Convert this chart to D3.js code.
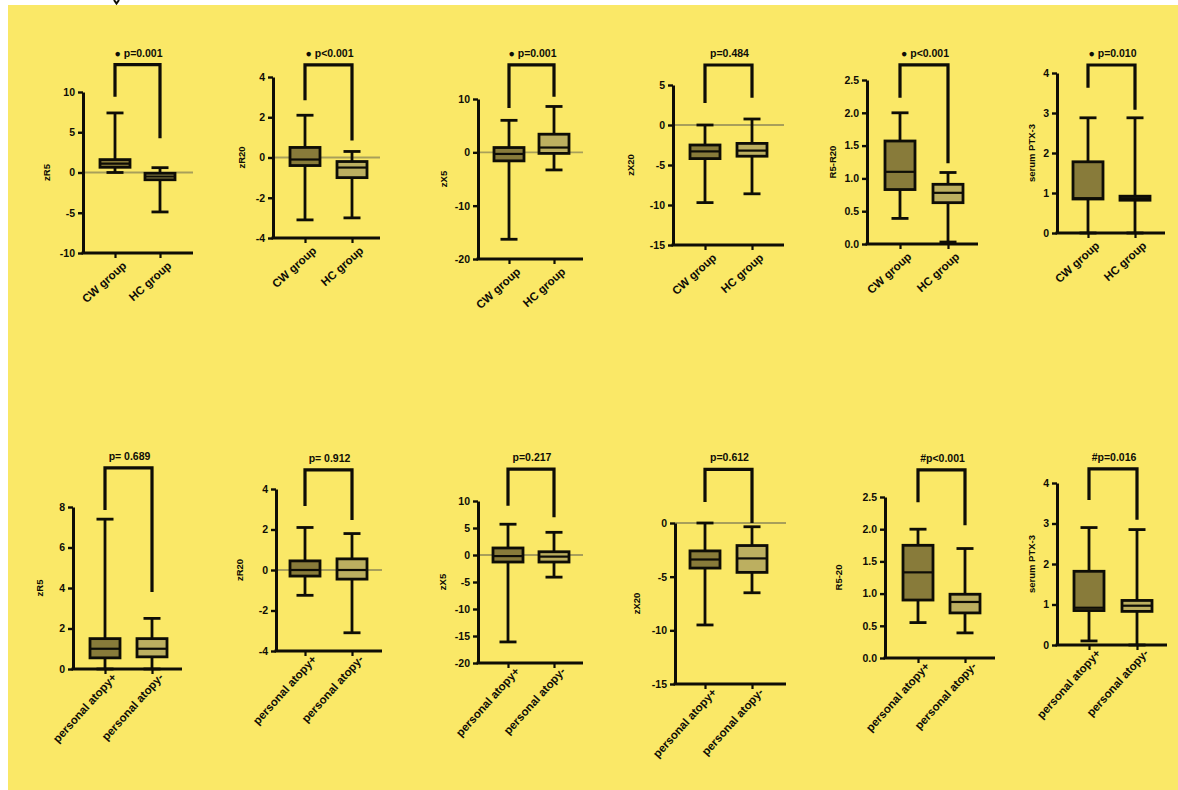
<!DOCTYPE html>
<html>
<head>
<meta charset="utf-8">
<script src="https://cdn.jsdelivr.net/npm/d3@7"></script>
<style>
  html, body { margin: 0; padding: 0; background: #ffffff; }
  svg { display: block; font-family: "Liberation Sans", Arial, sans-serif; }
</style>
</head>
<body>
<svg id="chart" width="1178" height="790"></svg>
<script>
// ---- data ----
const topGroups = ["CW group", "HC group"];
const bottomGroups = ["personal atopy+", "personal atopy-"];

const yTitles = ["zR5", "zR20", "zX5", "zX20", "R5-R20", "serum PTX-3",
                 "zR5", "zR20", "zX5", "zX20", "R5-20", "serum PTX-3"];

const pLabels = ["\u25CF p=0.001", "\u25CF p<0.001", "\u25CF p=0.001", "p=0.484", "\u25CF p<0.001", "\u25CF p=0.010",
                 "p= 0.689", "p= 0.912", "p=0.217", "p=0.612", "#p<0.001", "#p=0.016"];

const yDomains = [[-10, 10], [-4, 4], [-20, 10], [-15, 5], [0, 2.5], [0, 4],
                  [0, 8], [-4, 4], [-20, 10], [-15, 0], [0, 2.5], [0, 4]];

const yTicks = [[-10, -5, 0, 5, 10], [-4, -2, 0, 2, 4], [-20, -10, 0, 10], [-15, -10, -5, 0, 5],
                [0, 0.5, 1, 1.5, 2, 2.5], [0, 1, 2, 3, 4],
                [0, 2, 4, 6, 8], [-4, -2, 0, 2, 4], [-20, -15, -10, -5, 0, 5, 10], [-15, -10, -5, 0],
                [0, 0.5, 1, 1.5, 2, 2.5], [0, 1, 2, 3, 4]];

// box statistics: [whisker low, Q1, median, Q3, whisker high]
const statsFirst = [
  [0.0, 0.65, 1.1, 1.6, 7.4],
  [-3.1, -0.4, -0.1, 0.5, 2.1],
  [-16.3, -1.6, -0.3, 0.9, 6.0],
  [-9.7, -4.2, -3.3, -2.5, 0.0],
  [0.39, 0.83, 1.1, 1.57, 2.0],
  [0.0, 0.85, 0.87, 1.78, 2.88],
  [0.0, 0.55, 1.0, 1.5, 7.4],
  [-1.25, -0.3, 0.0, 0.45, 2.1],
  [-16.1, -1.3, -0.2, 1.3, 5.7],
  [-9.5, -4.2, -3.4, -2.6, 0.0],
  [0.55, 0.9, 1.33, 1.75, 2.0],
  [0.1, 0.85, 0.92, 1.82, 2.9]
];
const statsSecond = [
  [-4.9, -0.9, -0.5, -0.1, 0.6],
  [-3.0, -1.0, -0.5, -0.2, 0.3],
  [-3.3, -0.2, 0.9, 3.4, 8.6],
  [-8.6, -3.9, -3.2, -2.3, 0.75],
  [0.03, 0.63, 0.78, 0.91, 1.09],
  [0.0, 0.82, 0.87, 0.92, 2.88],
  [0.0, 0.6, 1.0, 1.5, 2.5],
  [-3.1, -0.45, 0.0, 0.55, 1.8],
  [-4.1, -1.3, -0.3, 0.6, 4.2],
  [-6.5, -4.6, -3.3, -2.1, -0.35],
  [0.39, 0.7, 0.87, 0.99, 1.7],
  [0.0, 0.83, 0.97, 1.1, 2.85]
];

// significance bracket: [bar level, left leg end, right leg end] in axis units
const brackets = [
  [13.4, 9.4, 4.25], [4.6, 2.85, 0.85], [16.4, 8.3, 10.4], [7.5, 2.75, 3.4], [2.73, 2.23, 1.23], [4.2, 3.63, 3.08],
  [9.93, 7.85, 3.8], [4.94, 3.16, 2.47], [15.9, 9.1, 7.0], [5.0, 1.96, 0.0], [2.92, 2.42, 2.06], [4.35, 3.58, 3.09]
];

// panels with a zero reference line
const zeroLine = [true, true, true, true, false, false, false, true, true, true, false, false];

// ---- layout (pixels): axis x, top of y range, bottom of y range, first/second group x, x-axis end, y-title offset ----
const layout = [
  [83, 92, 253, 115, 160, 193, 36],
  [273, 77, 238, 305, 352, 380, 31],
  [478, 99, 259, 509, 554, 583, 34],
  [673, 85, 245, 705, 752, 784, 42],
  [867, 80, 244, 900, 948, 978, 34],
  [1057, 73, 233, 1088, 1135, 1165, 25],
  [73, 507, 669, 105, 152, 182, 33],
  [276, 489, 651, 305, 352, 382, 36],
  [478, 501, 663, 508, 554, 583, 35],
  [675, 523, 684, 705, 752, 786, 38],
  [885, 497, 658, 918, 965, 995, 46],
  [1057, 483, 645, 1089, 1137, 1167, 25]
];

// ---- styles ----
const BG = "#fae867";
const FILL_A = "#887b3a";
const FILL_B = "#bcaf60";
const INK = "#0e0d06";
const ZERO = "#a89f5a";
const BOX_W = 30, CAP_W = 17;
const FONT = "'Liberation Sans', Arial, sans-serif";

const svg = d3.select("#chart");

svg.append("rect").attr("x", 8).attr("y", 5).attr("width", 1170).attr("height", 785).attr("fill", BG);

// tail of a glyph from the line above the figure
svg.append("path").attr("d", "M114,0 L116.5,3.5 L119,0").attr("fill", "none")
  .attr("stroke", INK).attr("stroke-width", 2);

const fmtDec = v => v.toFixed(1);
const fmtInt = v => String(v);

yTitles.forEach((title, i) => {
  const [ax, yTop, yBot, c1, c2, axEnd, titleOff] = layout[i];
  const groups = i < 6 ? topGroups : bottomGroups;
  const g = svg.append("g");

  const y = d3.scaleLinear().domain(yDomains[i]).range([yBot, yTop]);
  const x = d3.scalePoint().domain(groups).range([c1, c2]);

  // zero reference
  if (zeroLine[i]) {
    g.append("line").attr("x1", ax).attr("x2", axEnd).attr("y1", y(0)).attr("y2", y(0))
      .attr("stroke", ZERO).attr("stroke-width", 1.8);
  }

  // y axis
  const decimals = yTicks[i].some(t => !Number.isInteger(t));
  const yAxis = d3.axisLeft(y).tickValues(yTicks[i]).tickSize(5).tickSizeOuter(0).tickPadding(3)
    .tickFormat(decimals ? fmtDec : fmtInt);
  const ya = g.append("g").attr("transform", `translate(${ax},0)`).call(yAxis);
  ya.select(".domain").attr("stroke", INK).attr("stroke-width", 3);
  ya.selectAll(".tick line").attr("stroke", INK).attr("stroke-width", 2.4);
  ya.selectAll(".tick text").attr("fill", INK).attr("font-size", 10.5).attr("font-weight", "bold")
    .attr("font-family", FONT);

  // x axis baseline
  g.append("line").attr("x1", ax - 1.5).attr("x2", axEnd).attr("y1", yBot).attr("y2", yBot)
    .attr("stroke", INK).attr("stroke-width", 3);
  const xAxis = d3.axisBottom(x).tickSize(5).tickSizeOuter(0).tickPadding(4);
  const xa = g.append("g").attr("transform", `translate(0,${yBot})`).call(xAxis);
  xa.select(".domain").remove();
  xa.selectAll(".tick line").attr("stroke", INK).attr("stroke-width", 2.2);
  xa.selectAll(".tick text")
    .attr("fill", INK).attr("font-size", 11.5).attr("font-weight", "bold")
    .attr("font-family", FONT)
    .attr("text-anchor", "end")
    .attr("dy", "0.35em")
    .attr("transform", i < 6 ? "translate(3,4) rotate(-42)" : "translate(2,0) rotate(-48)");

  // y title
  g.append("text")
    .attr("transform", `translate(${ax - titleOff},${(yTop + yBot) / 2}) rotate(-90)`)
    .attr("text-anchor", "middle").attr("dy", "0.35em")
    .attr("font-size", 9.5).attr("font-weight", "bold").attr("fill", INK)
    .text(title);

  // boxes
  const boxData = [
    { grp: groups[0], s: statsFirst[i], fill: FILL_A },
    { grp: groups[1], s: statsSecond[i], fill: FILL_B }
  ];
  const b = g.selectAll(".box").data(boxData).join("g").attr("class", "box");
  // whisker stems
  b.append("line")
    .attr("x1", d => x(d.grp)).attr("x2", d => x(d.grp))
    .attr("y1", d => y(d.s[0])).attr("y2", d => y(d.s[4]))
    .attr("stroke", INK).attr("stroke-width", 2.8);
  // caps
  b.selectAll(".cap").data(d => [[d.grp, d.s[0]], [d.grp, d.s[4]]]).join("line").attr("class", "cap")
    .attr("x1", d => x(d[0]) - CAP_W / 2).attr("x2", d => x(d[0]) + CAP_W / 2)
    .attr("y1", d => y(d[1])).attr("y2", d => y(d[1]))
    .attr("stroke", INK).attr("stroke-width", 2.8);
  // box
  b.append("rect")
    .attr("x", d => x(d.grp) - BOX_W / 2).attr("width", BOX_W)
    .attr("y", d => y(d.s[3])).attr("height", d => Math.max(0.5, y(d.s[1]) - y(d.s[3])))
    .attr("fill", d => d.fill).attr("stroke", INK).attr("stroke-width", 2.8);
  // median
  b.append("line")
    .attr("x1", d => x(d.grp) - BOX_W / 2).attr("x2", d => x(d.grp) + BOX_W / 2)
    .attr("y1", d => y(d.s[2])).attr("y2", d => y(d.s[2]))
    .attr("stroke", INK).attr("stroke-width", 2.2);

  // significance bracket
  const [bTop, bLeft, bRight] = brackets[i];
  const path = d3.path();
  path.moveTo(x(groups[0]), y(bLeft));
  path.lineTo(x(groups[0]), y(bTop));
  path.lineTo(x(groups[1]), y(bTop));
  path.lineTo(x(groups[1]), y(bRight));
  g.append("path").attr("d", path.toString()).attr("fill", "none")
    .attr("stroke", INK).attr("stroke-width", 3.2);

  g.append("text")
    .attr("x", (x(groups[0]) + x(groups[1])) / 2 + 1).attr("y", y(bTop) - 8)
    .attr("text-anchor", "middle").attr("font-size", 10.5).attr("font-weight", "bold")
    .attr("fill", INK).text(pLabels[i]);
});
</script>
</body>
</html>
